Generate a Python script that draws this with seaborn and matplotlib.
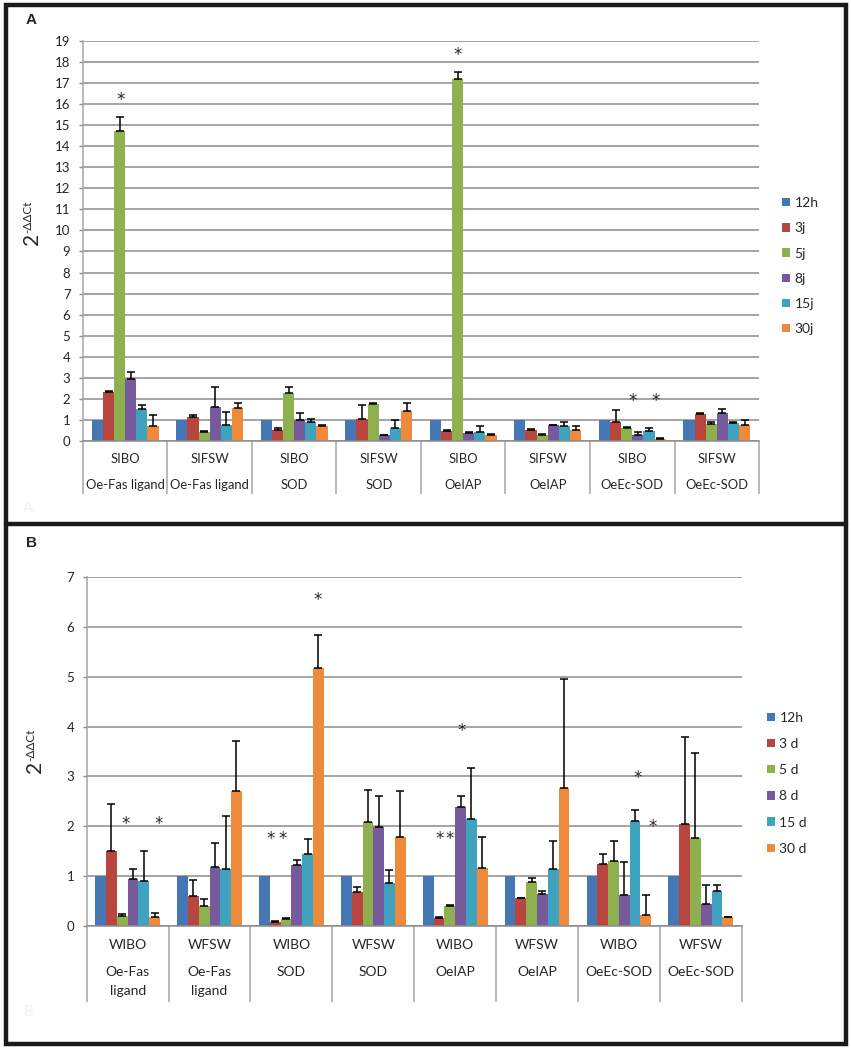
import numpy as np
import pandas as pd
import matplotlib
matplotlib.use("Agg")
import matplotlib.pyplot as plt
import matplotlib.transforms as mtransforms
from matplotlib.patches import Rectangle
from matplotlib.lines import Line2D
import seaborn as sns

# ---- panel A data ----
a_treat = ["SIBO", "SIFSW", "SIBO", "SIFSW", "SIBO", "SIFSW", "SIBO", "SIFSW"]
a_gene = ["Oe-Fas ligand", "Oe-Fas ligand", "SOD", "SOD", "OeIAP", "OeIAP", "OeEc-SOD", "OeEc-SOD"]
a_times = ["12h", "3j", "5j", "8j", "15j", "30j"]
a_12h = [1.0, 1.0, 1.0, 1.0, 1.0, 1.0, 1.0, 1.0]
a_3j = [2.30, 1.13, 0.49, 1.03, 0.48, 0.49, 0.90, 1.29]
a_5j = [14.75, 0.40, 2.29, 1.75, 17.20, 0.27, 0.62, 0.79]
a_8j = [2.95, 1.62, 0.98, 0.25, 0.37, 0.73, 0.29, 1.30]
a_15j = [1.49, 0.73, 0.89, 0.59, 0.43, 0.70, 0.46, 0.84]
a_30j = [0.71, 1.57, 0.71, 1.40, 0.27, 0.49, 0.10, 0.73]
a_err_12h = [0, 0, 0, 0, 0, 0, 0, 0]
a_err_3j = [0.08, 0.11, 0.13, 0.65, 0.03, 0.05, 0.58, 0.03]
a_err_5j = [0.65, 0.04, 0.27, 0.02, 0.32, 0.03, 0.03, 0.08]
a_err_8j = [0.34, 0.95, 0.32, 0.03, 0.05, 0.03, 0.12, 0.22]
a_err_15j = [0.22, 0.62, 0.13, 0.41, 0.28, 0.17, 0.13, 0.05]
a_err_30j = [0.51, 0.22, 0.04, 0.41, 0.03, 0.19, 0.04, 0.24]
# stars: (group, series, y, shift in bar widths)
a_stars = [(0, 2, 16.2, 0.12), (4, 2, 18.37, 0.0), (6, 3, 1.90, -0.47), (6, 5, 1.90, -0.40)]

# ---- panel B data ----
b_treat = ["WIBO", "WFSW", "WIBO", "WFSW", "WIBO", "WFSW", "WIBO", "WFSW"]
b_gene = ["Oe-Fas\nligand", "Oe-Fas\nligand", "SOD", "SOD", "OeIAP", "OeIAP", "OeEc-SOD", "OeEc-SOD"]
b_times = ["12h", "3 d", "5 d", "8 d", "15 d", "30 d"]
b_12h = [1.0, 1.0, 1.0, 1.0, 1.0, 1.0, 1.0, 1.0]
b_3d = [1.51, 0.61, 0.09, 0.68, 0.17, 0.56, 1.25, 2.04]
b_5d = [0.21, 0.41, 0.15, 2.09, 0.41, 0.89, 1.31, 1.76]
b_8d = [0.94, 1.19, 1.23, 1.99, 2.38, 0.65, 0.63, 0.45]
b_15d = [0.91, 1.15, 1.45, 0.87, 2.14, 1.14, 2.11, 0.71]
b_30d = [0.19, 2.70, 5.18, 1.78, 1.16, 2.76, 0.23, 0.18]
b_err_12h = [0, 0, 0, 0, 0, 0, 0, 0]
b_err_3d = [0.93, 0.32, 0.01, 0.11, 0.02, 0.01, 0.19, 1.76]
b_err_5d = [0.04, 0.14, 0.02, 0.63, 0.02, 0.08, 0.39, 1.70]
b_err_8d = [0.21, 0.48, 0.09, 0.61, 0.22, 0.06, 0.65, 0.37]
b_err_15d = [0.60, 1.06, 0.29, 0.26, 1.02, 0.56, 0.21, 0.12]
b_err_30d = [0.08, 1.01, 0.66, 0.93, 0.62, 2.20, 0.39, 0.01]
b_stars = [(0, 2, 2.05, 0.30), (0, 5, 2.05, 0.34),
           (2, 1, 1.74, -0.43), (2, 2, 1.74, -0.30), (2, 5, 6.54, -0.10),
           (4, 1, 1.74, 0.06), (4, 2, 1.74, 0.0), (4, 3, 3.92, 0.12),
           (6, 4, 2.96, 0.25), (6, 5, 1.98, 0.60)]

colors = ["#4577B5", "#B8463F", "#8FB04F", "#765A9C", "#3FA2BE", "#EE8A3C"]
grid_gray = "#8c8c8c"
sep_gray = "#a6a6a6"

sns.set_style("white")
plt.rcParams["font.family"] = ["Lato", "DejaVu Sans"]


def long_frame(treat, gene, times, series):
    rows = []
    for t, vals in zip(times, series):
        for i, v in enumerate(vals):
            rows.append({"key": f"{treat[i]}|{gene[i]}", "time": t, "value": v})
    return pd.DataFrame(rows)


def draw_panel(fig, rect, treat, gene, times, series, errs, stars, ymax,
               row1_off, row2_off, row_size, sep_len, legend_xy, legend_space,
               label_xy):
    ax = fig.add_axes(rect)
    df = long_frame(treat, gene, times, series)
    order = [f"{t}|{g}" for t, g in zip(treat, gene)]
    sns.barplot(data=df, x="key", y="value", hue="time", order=order,
                hue_order=times, palette=colors, errorbar=None, width=0.79,
                gap=0, saturation=1, linewidth=0, ax=ax)
    bars = list(ax.containers)

    # upward error bars and stars from the bar positions
    for k, cont in enumerate(bars):
        xs = [p.get_x() + p.get_width() / 2 for p in cont.patches]
        hs = [p.get_height() for p in cont.patches]
        e = errs[k]
        idx = [i for i in range(len(e)) if e[i] > 0]
        if idx:
            ax.errorbar([xs[i] for i in idx], [hs[i] for i in idx],
                        yerr=[[0] * len(idx), [e[i] for i in idx]],
                        fmt="none", ecolor="black", elinewidth=1.1,
                        capsize=2.6, capthick=1.1, zorder=4)
    bw = bars[0].patches[0].get_width()
    for g, s, y, dx in stars:
        p = bars[s].patches[g]
        x = p.get_x() + p.get_width() / 2 + dx * bw
        ax.text(x, y, "*", ha="center", va="center", fontsize=12,
                family="DejaVu Sans", zorder=5)

    ax.set_ylim(0, ymax)
    ax.set_xlim(-0.5, len(treat) - 0.5)
    ax.set_yticks(range(0, ymax + 1))
    ax.yaxis.grid(True, color=grid_gray, linewidth=1.1)
    ax.set_axisbelow(True)
    for side in ["top", "right"]:
        ax.spines[side].set_visible(False)
    ax.spines["left"].set_color(sep_gray)
    ax.spines["bottom"].set_color(grid_gray)
    ax.spines["left"].set_linewidth(1.1)
    ax.spines["bottom"].set_linewidth(1.1)
    ax.tick_params(axis="y", length=3, width=1, color=grid_gray, pad=6,
                   labelsize=9.5, direction="out", left=True)
    ax.set_xticks(range(len(treat)))
    ax.set_xticklabels([])
    ax.tick_params(axis="x", which="major", length=0)
    ax.set_xticks(np.arange(-0.5, len(treat)), minor=True)
    ax.tick_params(axis="x", which="minor", length=sep_len, width=1.1,
                   color=sep_gray, direction="out", bottom=True)
    ax.set_xlabel("")

    # y label: large "2" with a small superscript
    ax.set_ylabel("2", fontsize=15)
    ax.yaxis.set_label_coords(*label_xy)
    ax.annotate("-ΔΔCt", (0.0, 1.0), xycoords=ax.yaxis.label, rotation=90,
                ha="left", va="bottom", fontsize=8.5)

    trans = mtransforms.blended_transform_factory(ax.transData, ax.transAxes)
    for i in range(len(treat)):
        ax.annotate(treat[i], (i, 0), xycoords=trans, xytext=(0, -row1_off),
                    textcoords="offset points", ha="center", va="center",
                    fontsize=row_size)
        ax.annotate(gene[i], (i, 0), xycoords=trans, xytext=(0, -row2_off),
                    textcoords="offset points", ha="center", va="top",
                    fontsize=row_size, linespacing=1.7)

    handles, labels = ax.get_legend_handles_labels()
    ax.get_legend().remove()
    fig.legend(handles, labels, loc="center left", bbox_to_anchor=legend_xy,
               frameon=False, fontsize=10, handlelength=0.55,
               handleheight=0.55, handletextpad=0.35, borderpad=0,
               labelspacing=legend_space)
    return ax


fig = plt.figure(figsize=(8.51, 10.5), dpi=100)

ax_a = draw_panel(fig, [0.0975, 0.5803, 0.7944, 0.3804], a_treat, a_gene, a_times,
                  [a_12h, a_3j, a_5j, a_8j, a_15j, a_30j],
                  [a_err_12h, a_err_3j, a_err_5j, a_err_8j, a_err_15j, a_err_30j],
                  a_stars, 19, 13.2, 27.8, 9.4, 38, (0.911, 0.7465), 0.95,
                  (-0.060, 0.505))

ax_b = draw_panel(fig, [0.1019, 0.1178, 0.7697, 0.3330], b_treat, b_gene, b_times,
                  [b_12h, b_3d, b_5d, b_8d, b_15d, b_30d],
                  [b_err_12h, b_err_3d, b_err_5d, b_err_8d, b_err_15d, b_err_30d],
                  b_stars, 7, 13.6, 28.3, 10, 54.5, (0.893, 0.2540), 1.02,
                  (-0.064, 0.455))

# panel letters and frame
fig.text(0.037, 0.981, "A", fontsize=11, fontweight="bold", family="Liberation Sans",
         ha="center", va="center")
fig.text(0.037, 0.483, "B", fontsize=11, fontweight="bold", family="Liberation Sans",
         ha="center", va="center")
fig.text(0.033, 0.516, "A", fontsize=11, color="#f2f2f2", ha="center", va="center")
fig.text(0.033, 0.036, "B", fontsize=11, color="#f2f2f2", ha="center", va="center")
fig.add_artist(Rectangle((0.0065, 0.0055), 0.988, 0.9895, transform=fig.transFigure,
                         fill=False, edgecolor="#1a1a1a", linewidth=3.2))
fig.add_artist(Line2D([0.0065, 0.9945], [0.501, 0.501], transform=fig.transFigure,
                      color="#1a1a1a", linewidth=3.2))

fig.savefig("out.png", dpi=100)
